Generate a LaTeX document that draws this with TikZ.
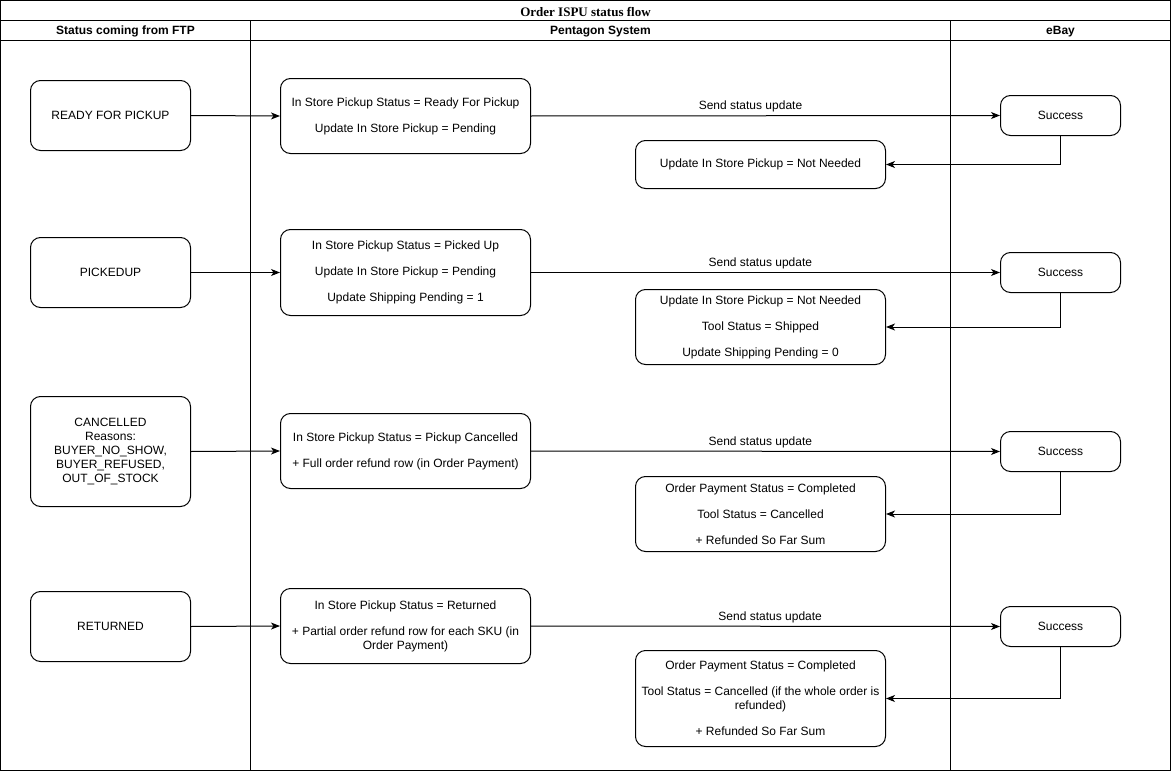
\documentclass[tikz,border=0pt]{standalone}
\usepackage{fontspec}
\setmainfont{Liberation Sans}
\newfontfamily\titlefont{Liberation Serif}
\usetikzlibrary{arrows.meta}
\begin{document}
\begin{tikzpicture}[x=1pt,y=-1pt,
  every node/.style={font=\fontsize{12}{14}\selectfont},
  lane/.style={draw=black,line width=1pt},
  box/.style={draw=black,line width=1pt,rounded corners=10pt,align=center,inner sep=0pt},
  flow/.style={line width=1pt,-{Stealth[length=9pt,width=7pt,inset=2.5pt]}},
  lbl/.style={inner sep=0pt,anchor=south,yshift=3pt}
]
\useasboundingbox (-0.5,-0.5) rectangle (1170.5,770.5);
% swimlanes
\draw[lane] (0,0) rectangle (1170,770);
\draw[lane] (0,20) -- (1170,20);
\draw[lane] (0,40) -- (1170,40);
\draw[lane] (250,20) -- (250,770);
\draw[lane] (950,20) -- (950,770);
\node[font=\titlefont\bfseries\fontsize{13}{15}\selectfont] (title) at (585,12) {Order ISPU status flow};
\node[font=\bfseries\fontsize{12}{14}\selectfont] (h1) at (125,31) {Status coming from FTP};
\node[font=\bfseries\fontsize{12}{14}\selectfont] (h2) at (600,31) {Pentagon System};
\node[font=\bfseries\fontsize{12}{14}\selectfont] (h3) at (1060,31) {eBay};

% Row 1
\node[box,minimum width=160pt,minimum height=70pt] (s1) at (110,115) {READY FOR PICKUP};
\node[box,minimum width=250pt,minimum height=75pt] (p1) at (405,115.5) {In Store Pickup Status = Ready For Pickup\\[12pt]Update In Store Pickup = Pending};
\node[box,minimum width=120pt,minimum height=40pt] (e1) at (1060,115) {Success};
\node[box,minimum width=250pt,minimum height=48pt] (r1) at (760,164) {Update In Store Pickup = Not Needed};
\draw[flow] (s1.east) -- (p1.west);
\draw[flow] (p1.east) -- node[lbl,pos=0.468] (l1) {Send status update} (e1.west);
\draw[flow] (e1.south) |- (r1.east);

% Row 2
\node[box,minimum width=160pt,minimum height=70pt] (s2) at (110,272) {PICKEDUP};
\node[box,minimum width=250pt,minimum height=86pt] (p2) at (405,272) {In Store Pickup Status = Picked Up\\[12pt]Update In Store Pickup = Pending\\[12pt]Update Shipping Pending = 1};
\node[box,minimum width=120pt,minimum height=40pt] (e2) at (1060,272) {Success};
\node[box,minimum width=250pt,minimum height=75pt] (r2) at (760,326.5) {Update In Store Pickup = Not Needed\\[12pt]Tool Status = Shipped\\[12pt]Update Shipping Pending = 0};
\draw[flow] (s2.east) -- (p2.west);
\draw[flow] (p2.east) -- node[lbl,pos=0.489] (l2) {Send status update} (e2.west);
\draw[flow] (e2.south) |- (r2.east);

% Row 3
\node[box,minimum width=160pt,minimum height=110pt] (s3) at (110,451) {CANCELLED\\Reasons:\\BUYER\_NO\_SHOW,\\BUYER\_REFUSED,\\OUT\_OF\_STOCK};
\node[box,minimum width=250pt,minimum height=75pt] (p3) at (405,450.5) {In Store Pickup Status = Pickup Cancelled\\[12pt]+ Full order refund row (in Order Payment)};
\node[box,minimum width=120pt,minimum height=40pt] (e3) at (1060,451) {Success};
\node[box,minimum width=250pt,minimum height=75pt] (r3) at (760,513.5) {Order Payment Status = Completed\\[12pt]Tool Status = Cancelled\\[12pt]+ Refunded So Far Sum};
\draw[flow] (s3.east) -- (p3.west);
\draw[flow] (p3.east) -- node[lbl,pos=0.489] (l3) {Send status update} (e3.west);
\draw[flow] (e3.south) |- (r3.east);

% Row 4
\node[box,minimum width=160pt,minimum height=70pt] (s4) at (110,626) {RETURNED};
\node[box,minimum width=250pt,minimum height=75pt] (p4) at (405,625.5) {In Store Pickup Status = Returned\\[12pt]+ Partial order refund row for each SKU (in\\Order Payment)};
\node[box,minimum width=120pt,minimum height=40pt] (e4) at (1060,626) {Success};
\node[box,minimum width=250pt,minimum height=96pt] (r4) at (760,698) {Order Payment Status = Completed\\[12pt]Tool Status = Cancelled (if the whole order is\\refunded)\\[12pt]+ Refunded So Far Sum};
\draw[flow] (s4.east) -- (p4.west);
\draw[flow] (p4.east) -- node[lbl,pos=0.51] (l4) {Send status update} (e4.west);
\draw[flow] (e4.south) |- (r4.east);
\end{tikzpicture}
\end{document}
